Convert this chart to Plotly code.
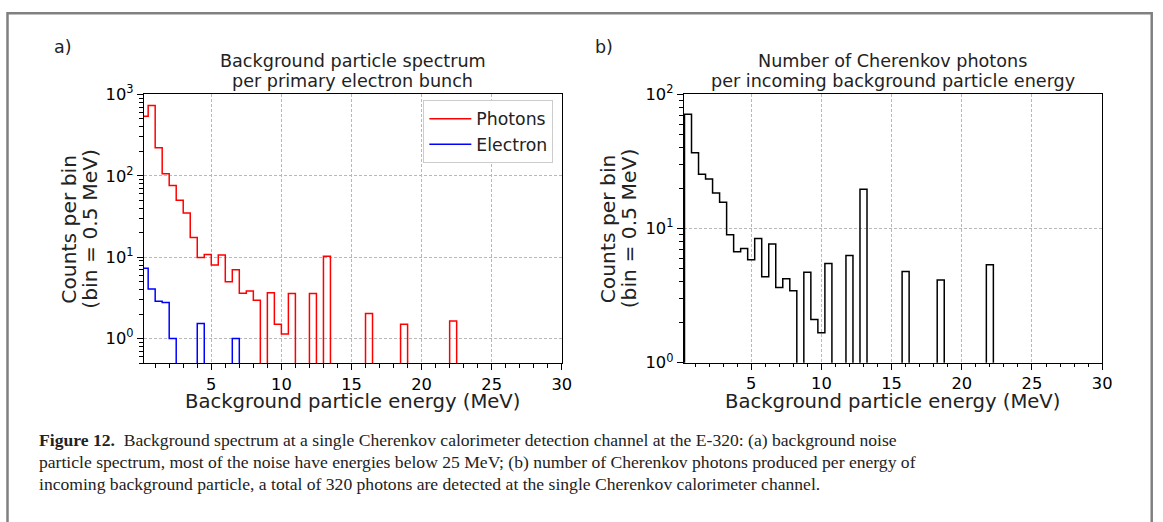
import math
import plotly.graph_objects as go

# ---------------- data ----------------
BIN_WIDTH = 0.5
a_start = 0.0          # first bin edge, panel a (MeV)
b_start = 0.25         # first bin edge, panel b (MeV)

photons = [540, 730, 221, 106, 76, 50, 35, 17.5, 9.9, 10.8,
           8.0, 10.6, 5.0, 7.0, 3.6, 3.85, 2.95, 0, 3.66, 1.5,
           1.14, 3.57, 0, 0, 3.57, 0, 10.3, 0, 0, 0,
           0, 0, 2.03, 0, 0, 0, 0, 1.5, 0, 0,
           0, 0, 0, 0, 1.64, 0, 0, 0, 0, 0,
           0, 0, 0, 0, 0, 0, 0, 0, 0, 0]

electrons = [7.3, 4.06, 2.87, 2.77, 1.0, 0, 0, 0, 1.53, 0,
             0, 0, 0, 1.0, 0, 0, 0, 0, 0, 0,
             0, 0, 0, 0, 0, 0, 0, 0, 0, 0,
             0, 0, 0, 0, 0, 0, 0, 0, 0, 0,
             0, 0, 0, 0, 0, 0, 0, 0, 0, 0,
             0, 0, 0, 0, 0, 0, 0, 0, 0, 0]

cherenkov = [70.8, 36.7, 25.3, 23.4, 18.4, 15.7, 9.0, 6.7, 7.1, 5.85,
             8.43, 4.37, 7.66, 3.64, 4.23, 3.44, 0, 4.73, 2.10, 1.67,
             5.49, 0, 0, 6.29, 0, 19.6, 0, 0, 0, 0,
             0, 4.79, 0, 0, 0, 0, 4.13, 0, 0, 0,
             0, 0, 0, 5.37, 0, 0, 0, 0, 0, 0,
             0, 0, 0, 0, 0, 0, 0, 0, 0]

x_ticks = [5, 10, 15, 20, 25, 30]
a_decades = [1, 10, 100, 1000]
a_decade_labels = ["10<sup>0</sup>", "10<sup>1</sup>", "10<sup>2</sup>", "10<sup>3</sup>"]
b_decades = [1, 10, 100]
b_decade_labels = ["10<sup>0</sup>", "10<sup>1</sup>", "10<sup>2</sup>"]

title_a = ["Background particle spectrum", "per primary electron bunch"]
title_b = ["Number of Cherenkov photons", "per incoming background particle energy"]
x_label = "Background particle energy (MeV)"
y_label = ["Counts per bin", "(bin = 0.5 MeV)"]
caption = [
    "<b>Figure 12.</b>  Background spectrum at a single Cherenkov calorimeter detection channel at the E-320: (a) background noise",
    "particle spectrum, most of the noise have energies below 25 MeV; (b) number of Cherenkov photons produced per energy of",
    "incoming background particle, a total of 320 photons are detected at the single Cherenkov calorimeter channel.",
]

# ---------------- helpers ----------------
FLOOR = 1e-4  # empty bins drop below the visible axis


def step_outline(start, width, counts):
    xs, ys = [start], [FLOOR]
    for i, c in enumerate(counts):
        v = c if c > 0 else FLOOR
        x0 = start + i * width
        xs += [x0, x0 + width]
        ys += [v, v]
    xs.append(start + len(counts) * width)
    ys.append(FLOOR)
    return xs, ys


W, H = 1163, 522
FONT = "DejaVu Sans"

# the photographed page is slightly rescaled; map target picture pixels to layout pixels
SX, OX = 0.9917, -0.5
SY, OY = 0.961, 10.8


def px(X):
    return min(max(((X - OX) / SX) / W, 0), 1)


def py(Y):
    return min(max(1 - ((Y - OY) / SY) / H, 0), 1)


fig = go.Figure()

xp, yp = step_outline(a_start, BIN_WIDTH, photons)
fig.add_trace(go.Scatter(x=xp, y=yp, mode="lines", name="Photons",
                         line=dict(color="#ff0000", width=1.5), xaxis="x", yaxis="y"))
xe, ye = step_outline(a_start, BIN_WIDTH, electrons)
fig.add_trace(go.Scatter(x=xe, y=ye, mode="lines", name="Electron",
                         line=dict(color="#0000ff", width=1.5), xaxis="x", yaxis="y"))
xc, yc = step_outline(b_start, BIN_WIDTH, cherenkov)
fig.add_trace(go.Scatter(x=xc, y=yc, mode="lines", name="Cherenkov",
                         line=dict(color="#000000", width=1.5),
                         showlegend=False, xaxis="x2", yaxis="y2"))

tickfont = dict(family=FONT, size=16.3, color="black")
grid = dict(showgrid=True, gridcolor="#b8b8b8", griddash="3px,2px", gridwidth=0.8)


def xaxis(domain, anchor):
    return dict(domain=domain, anchor=anchor, range=[0.2, 30],
                tickmode="array", tickvals=x_ticks,
                ticks="outside", ticklen=6, tickwidth=1, tickcolor="black",
                showline=True, linecolor="black", linewidth=1.2, mirror=True,
                zeroline=False, tickfont=tickfont,
                minor=dict(tickmode="linear", tick0=0, dtick=1, ticks="outside",
                           ticklen=3.5, tickwidth=1, tickcolor="black", showgrid=False),
                **grid)


def minor_log(lo, hi):
    vals = []
    for k in range(lo, hi):
        for m in range(2, 10):
            vals.append(m * 10 ** k)
    return vals


def yaxis(domain, anchor, rng, tv, tt, minor_vals):
    return dict(domain=domain, anchor=anchor, type="log", range=rng,
                tickmode="array", tickvals=tv, ticktext=tt,
                ticks="outside", ticklen=6, tickwidth=1, tickcolor="black",
                showline=True, linecolor="black", linewidth=1.2, mirror=True,
                zeroline=False, tickfont=tickfont,
                minor=dict(tickmode="array", tickvals=minor_vals, ticks="outside",
                           ticklen=3.5, tickwidth=1, tickcolor="black", showgrid=False),
                **grid)


# axes boxes in target picture pixels: left, right, top, bottom
ax_a = (143.5, 561.5, 93.5, 363.0)
ax_b = (683.5, 1102.0, 93.3, 362.7)

fig.update_layout(
    width=W, height=H,
    margin=dict(l=0, r=0, t=0, b=0),
    paper_bgcolor="white", plot_bgcolor="white",
    font=dict(family=FONT, color="black"),
    xaxis=xaxis([px(ax_a[0]), px(ax_a[1])], "y"),
    yaxis=yaxis([py(ax_a[3]), py(ax_a[2])], "x", [math.log10(0.5), 3],
                a_decades, a_decade_labels, [v for v in minor_log(-1, 3) if v >= 0.5]),
    xaxis2=xaxis([px(ax_b[0]), px(ax_b[1])], "y2"),
    yaxis2=yaxis([py(ax_b[3]), py(ax_b[2])], "x2", [0, 2],
                 b_decades, b_decade_labels, minor_log(0, 2)),
    showlegend=True,
    legend=dict(x=px(553), y=py(99), xanchor="right", yanchor="top",
                bgcolor="white", bordercolor="#cccccc", borderwidth=1,
                font=dict(family=FONT, size=17.3, color="#222222"),
                itemwidth=42),
)

ann = []


def text(t, X, Y, size, anchor="center", angle=0, family=FONT):
    ann.append(dict(text=t, x=px(X), y=py(Y), xref="paper", yref="paper",
                    xanchor=anchor, yanchor="middle", showarrow=False, textangle=angle,
                    font=dict(family=family, size=size, color="#222222")))


for (x0, x1, y0, y1), lines, tag, tagx in [(ax_a, title_a, "a)", 63), (ax_b, title_b, "b)", 604)]:
    cx = (x0 + x1) / 2
    cy = (y0 + y1) / 2
    text(lines[0], cx, 60, 17.6)
    text(lines[1], cx, 80.3, 17.6)
    text(tag, tagx, 45.5, 17.5)
    text(x_label, cx, 401.5, 19.6)
    text(y_label[0], x0 - 75, cy, 20.3, angle=-90)
    text(y_label[1], x0 - 54, cy, 20.3, angle=-90)

for i, line in enumerate(caption):
    text(line, 37, 440.5 + 21.7 * i, 17.6, anchor="left", family="Liberation Serif")

fig.update_layout(annotations=ann)

# page frame (grey border of the figure box)
fig.update_layout(shapes=[
    dict(type="path", xref="paper", yref="paper",
         path=f"M {px(7)} -0.2 L {px(7)} {1 - 1.3 / H} L {1 - 1.3 / W} {1 - 1.3 / H} L {1 - 1.3 / W} -0.2",
         line=dict(color="#808080", width=2.5)),
])

fig.write_html("out.html")
